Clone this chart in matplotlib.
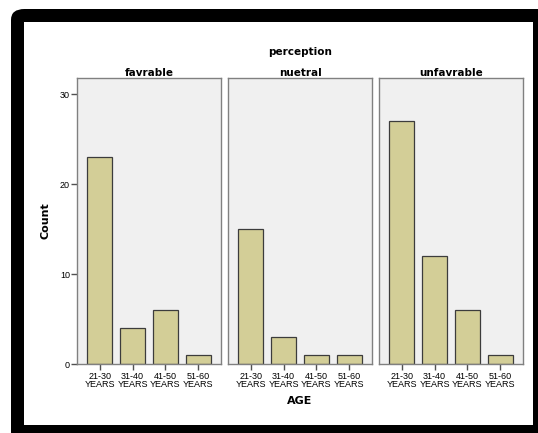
import numpy as np
import matplotlib.pyplot as plt
from matplotlib.patches import FancyBboxPatch, Rectangle

# data
groups = ['favrable', 'nuetral', 'unfavrable']
ages = ['21-30\nYEARS', '31-40\nYEARS', '41-50\nYEARS', '51-60\nYEARS']
favrable = [23, 4, 6, 1]
nuetral = [15, 3, 1, 1]
unfavrable = [27, 12, 6, 1]
counts = [favrable, nuetral, unfavrable]

W, H = 538, 433
fig = plt.figure(figsize=(W / 100, H / 100), dpi=100)
fig.patch.set_facecolor('white')

# black frame around the chart
fig.patches.append(FancyBboxPatch((11 / W, -10 / H), 540 / W, (433 - 9 + 10) / H,
                                  boxstyle='round,pad=0,rounding_size=0.025',
                                  transform=fig.transFigure, facecolor='black',
                                  edgecolor='none', zorder=-2))
fig.patches.append(Rectangle((24 / W, 8 / H), (533 - 24) / W, (425 - 22) / H,
                             transform=fig.transFigure, facecolor='white',
                             edgecolor='none', zorder=-1))

lefts = [77, 228, 379]
pw = 144
top, bottom = 78, 364
x = np.arange(len(ages))

for i, (name, vals) in enumerate(zip(groups, counts)):
    ax = fig.add_axes([lefts[i] / W, (H - bottom) / H, pw / W, (bottom - top) / H])
    ax.set_facecolor('#f0f0f0')
    ax.bar(x, vals, width=0.76, color='#d3ce97', edgecolor='#3c3c3c', linewidth=0.9)
    ax.set_xlim(-0.7, 3.7)
    ax.set_ylim(0, 31.8)
    for s in ax.spines.values():
        s.set_color('#808080')
        s.set_linewidth(1.0)
    ax.set_xticks(x)
    ax.set_xticklabels(ages, fontsize=6.5, family='Liberation Sans', linespacing=0.95)
    ax.tick_params(axis='x', length=4, width=1, color='#505050', pad=1.5)
    ax.set_title(name, fontsize=7.5, fontweight='bold', pad=1.5)
    if i == 0:
        ax.set_yticks([0, 10, 20, 30])
        ax.set_yticklabels(['0', '10', '20', '30'], fontsize=6.5, family='Liberation Sans')
        ax.tick_params(axis='y', length=4, width=1, color='#505050', pad=1)
        ax.set_ylabel('Count', fontsize=8, fontweight='bold', labelpad=7)
    else:
        ax.set_yticks([])

fig.text(300 / W, 1 - 52 / H, 'perception', ha='center', va='center',
         fontsize=7.5, fontweight='bold')
fig.text(300 / W, 1 - 401 / H, 'AGE', ha='center', va='center',
         fontsize=8, fontweight='bold')

plt.savefig('out.png', dpi=100)
